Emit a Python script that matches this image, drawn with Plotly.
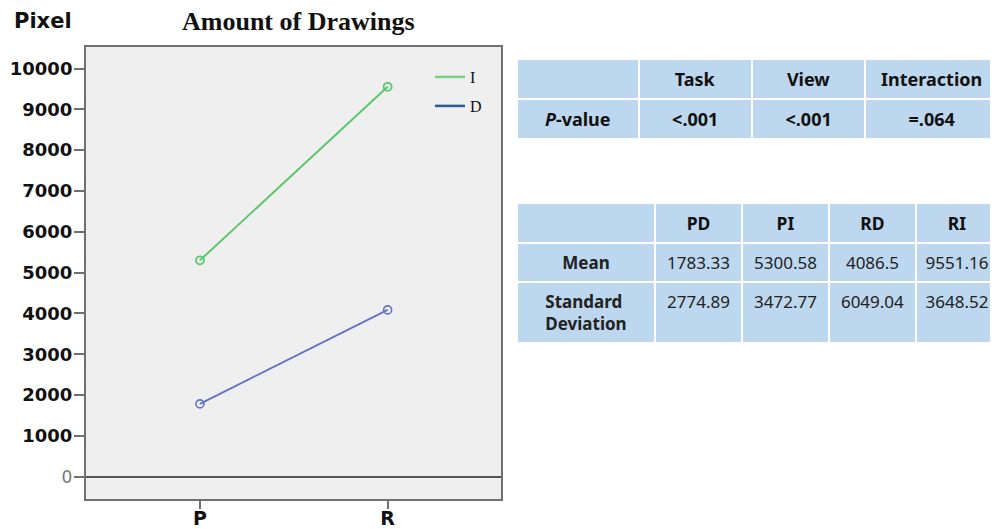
import plotly.graph_objects as go

# ---- data ----
categories = ["P", "R"]
series_I = [5300.58, 9551.16]
series_D = [1783.33, 4086.5]
y_tickvals = [0, 1000, 2000, 3000, 4000, 5000, 6000, 7000, 8000, 9000, 10000]

t1_header = ["", "Task", "View", "Interaction"]
t1_row = ["<i>P</i>-value", "<.001", "<.001", "=.064"]

t2_header = ["", "PD", "PI", "RD", "RI"]
t2_rowlabels = ["Mean", "Standard<br>Deviation"]
t2_mean = ["1783.33", "5300.58", "4086.5", "9551.16"]
t2_sd = ["2774.89", "3472.77", "6049.04", "3648.52"]

# page has an 8px body margin; figure is sized to fill the visible window
OFF = 8
W, H = 990, 521


def fx(px):
    return (px - OFF) / W


def fy(py):
    return 1 - (py - OFF) / H


green = "#5cc66c"
blue = "#6072c9"

fig = go.Figure()
fig.add_trace(go.Scatter(x=categories, y=series_I, mode="lines+markers", showlegend=False,
                         line=dict(color=green, width=2),
                         marker=dict(symbol="circle-open", size=8, color=green, line=dict(width=1.8))))
fig.add_trace(go.Scatter(x=categories, y=series_D, mode="lines+markers", showlegend=False,
                         line=dict(color=blue, width=1.8),
                         marker=dict(symbol="circle-open", size=8, color=blue, line=dict(width=1.6))))
# legend entries
fig.add_trace(go.Scatter(x=[None], y=[None], mode="lines", name="I", legend="legend",
                         line=dict(color="#7ccf88", width=2.5)))
fig.add_trace(go.Scatter(x=[None], y=[None], mode="lines", name="D", legend="legend2",
                         line=dict(color="#2d5a94", width=2.5)))

ticktext = ["<span style='font-weight:normal;fill:#777;font-size:17px'>0</span>"] + [str(v) for v in y_tickvals[1:]]

cell_fill = "#bdd7ee"
fnt = "Noto Sans"
fig.add_trace(go.Table(
    domain=dict(x=[fx(517), 1.0], y=[fy(200), fy(59)]),
    columnwidth=[120, 112, 112, 131],
    header=dict(values=[f"<b>{h}</b>" if h else "" for h in t1_header],
                fill_color=cell_fill, line=dict(color="white", width=2),
                font=dict(family=fnt, size=18, color="#111"), align="center", height=38),
    cells=dict(values=[[f"<b>{v}</b>"] for v in t1_row],
               fill_color=cell_fill, line=dict(color="white", width=2),
               font=dict(family=fnt, size=18, color="#111"), align="center", height=39),
))
fig.add_trace(go.Table(
    domain=dict(x=[fx(517), 1.0], y=[fy(400), fy(203)]),
    columnwidth=[138, 87, 87, 87, 82],
    header=dict(values=[f"<b>{h}</b>" if h else "" for h in t2_header],
                fill_color=cell_fill, line=dict(color="white", width=2),
                font=dict(family=fnt, size=17.5, color="#111"), align="center", height=36),
    cells=dict(values=[[f"<b>{r}</b>" for r in t2_rowlabels]] +
                      [[f"<span>{m}</span>", f"<span>{s}</span>"] for m, s in zip(t2_mean, t2_sd)],
               fill_color=cell_fill, line=dict(color="white", width=2),
               font=dict(family=fnt, size=17, color="#222"), align="center", height=39),
))

fig.update_layout(
    width=W, height=H,
    margin=dict(l=0, r=0, t=0, b=0),
    paper_bgcolor="white",
    plot_bgcolor="#efefef",
    xaxis=dict(domain=[fx(86), fx(501)], range=[-0.607, 1.604], type="category",
               showline=True, mirror=True, linecolor="#707070", linewidth=2,
               ticks="outside", ticklen=8, tickcolor="#707070", tickwidth=2,
               showgrid=False, zeroline=False, ticklabelstandoff=-7,
               tickfont=dict(family="DejaVu Sans", size=19, color="#111", weight="bold"),
               automargin=False, fixedrange=True),
    yaxis=dict(domain=[fy(499), fy(47)], range=[-546, 10527],
               tickvals=y_tickvals, ticktext=ticktext,
               showline=True, mirror=True, linecolor="#707070", linewidth=2,
               ticks="outside", ticklen=10, tickcolor="#707070", tickwidth=2,
               showgrid=False, zeroline=True, zerolinecolor="#555", zerolinewidth=1.5,
               ticklabelstandoff=-2,
               tickfont=dict(family="DejaVu Sans", size=18, color="#111", weight="bold"),
               automargin=False, fixedrange=True),
    legend=dict(x=fx(430), y=fy(77), xanchor="left", yanchor="middle",
                bgcolor="rgba(0,0,0,0)", font=dict(family="Liberation Serif", size=16, color="#111")),
    legend2=dict(x=fx(430), y=fy(106), xanchor="left", yanchor="middle",
                 bgcolor="rgba(0,0,0,0)", font=dict(family="Liberation Serif", size=16, color="#111")),
    annotations=[
        dict(text="<b>Pixel</b>", x=fx(43), y=fy(21), xref="paper", yref="paper",
             xanchor="center", yanchor="middle",
             showarrow=False, font=dict(family="DejaVu Sans", size=21, color="#111")),
        dict(text="<b>Amount of Drawings</b>", x=fx(298), y=fy(21), xref="paper", yref="paper",
             xanchor="center", yanchor="middle",
             showarrow=False, font=dict(family="Liberation Serif", size=26, color="#111")),
    ],
)

fig.write_html("out.html")
